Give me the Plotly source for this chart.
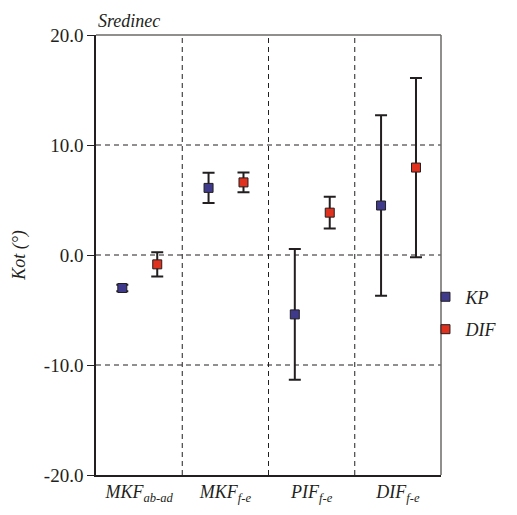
import plotly.graph_objects as go

# Joint-angle groups and measured means with spread
categories = ["MKF<sub>ab-ad</sub>", "MKF<sub>f-e</sub>", "PIF<sub>f-e</sub>", "DIF<sub>f-e</sub>"]
kp_mean = [-3.0, 6.1, -5.4, 4.5]
kp_err = [0.3, 1.37, 5.95, 8.2]
dif_mean = [-0.85, 6.6, 3.85, 7.95]
dif_err = [1.1, 0.9, 1.45, 8.15]
y_ticks = [-20, -10, 0, 10, 20]
y_tick_text = ["-20.0", "-10.0", "0.0", "10.0", "20.0"]
grid_values = [-10, 0, 10]

FONT = "serif"
INK = "#231f20"
DASH = "5px,4px"

idx = list(range(len(categories)))

fig = go.Figure()
series = [
    ("KP", kp_mean, kp_err, "#3f3a8c", -0.195),
    ("DIF", dif_mean, dif_err, "#e0301e", 0.21),
]
for name, mean, err, color, shift in series:
    fig.add_trace(go.Scatter(
        x=[i + shift for i in idx],
        y=mean,
        mode="markers",
        name=f"<i>{name}</i>",
        legendgroup=name,
        marker=dict(symbol="square", size=9, color=color,
                    line=dict(color=INK, width=1)),
        error_y=dict(type="data", array=err, visible=True,
                     color=INK, thickness=2, width=6),
    ))

shapes = []
# dashed separators between groups
for b in [0.5, 1.5, 2.5]:
    shapes.append(dict(type="line", xref="x", yref="paper", x0=b, x1=b, y0=0, y1=1,
                       line=dict(color=INK, width=1, dash=DASH), layer="below"))
# dashed horizontal grid
for g in grid_values:
    shapes.append(dict(type="line", xref="paper", yref="y", x0=0, x1=1, y0=g, y1=g,
                       line=dict(color=INK, width=1, dash=DASH), layer="below"))
# grey frame on top and right
shapes.append(dict(type="line", xref="paper", yref="paper", x0=0, x1=1, y0=1, y1=1,
                   line=dict(color="#6d6868", width=1.5)))
shapes.append(dict(type="line", xref="paper", yref="paper", x0=1, x1=1, y0=0, y1=1,
                   line=dict(color="#6d6868", width=1.5)))

fig.update_layout(
    width=517, height=515,
    margin=dict(l=96, r=76, t=35, b=40, autoexpand=False),
    paper_bgcolor="white", plot_bgcolor="white",
    font=dict(family=FONT, size=18, color=INK),
    showlegend=True,
    legend=dict(x=0.955, xanchor="left", y=0.368, yanchor="middle",
                font=dict(family=FONT, size=18, color=INK),
                tracegroupgap=6, bgcolor="rgba(0,0,0,0)", itemwidth=30),
    shapes=shapes,
    xaxis=dict(
        range=[-0.5, 3.5], tickvals=idx,
        ticktext=[f"<i>{c}</i>" for c in categories],
        showgrid=False, zeroline=False,
        showline=True, linecolor=INK, linewidth=1.5,
        ticks="", tickfont=dict(family=FONT, size=18, color=INK),
    ),
    yaxis=dict(
        range=[-20, 20], tickvals=y_ticks, ticktext=y_tick_text,
        showgrid=False, zeroline=False,
        showline=True, linecolor=INK, linewidth=1.5,
        ticks="outside", ticklen=7, tickcolor=INK, tickwidth=1,
        tickfont=dict(family=FONT, size=19, color=INK),
        title=dict(text="<i>Kot (°)</i>", font=dict(family=FONT, size=18, color=INK),
                   standoff=14),
    ),
    annotations=[dict(text="<i>Sredinec</i>", xref="paper", yref="paper", x=0.0, y=1.0,
                      xanchor="left", yanchor="bottom", showarrow=False, yshift=2,
                      font=dict(family=FONT, size=18, color=INK))],
)

fig.write_html("out.html")
